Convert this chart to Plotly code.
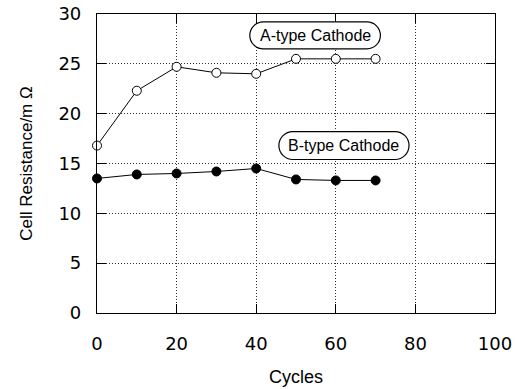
import plotly.graph_objects as go

# Cycle numbers and measured cell resistance (mΩ)
cycles = [0, 10, 20, 30, 40, 50, 60, 70]
a_type = [16.8, 22.3, 24.7, 24.1, 24.0, 25.5, 25.5, 25.5]
b_type = [13.5, 13.9, 14.0, 14.2, 14.5, 13.4, 13.3, 13.3]

x_ticks = [0, 20, 40, 60, 80, 100]
y_ticks = [0, 5, 10, 15, 20, 25, 30]

label_a = "A-type Cathode"
label_b = "B-type Cathode"

FONT = "Liberation Sans, Arial, sans-serif"
TICK_FONT = "DejaVu Sans, sans-serif"

fig = go.Figure()

fig.add_trace(go.Scatter(
    x=cycles, y=a_type, mode="lines+markers",
    line=dict(color="black", width=1),
    marker=dict(symbol="circle", size=9, color="white",
                line=dict(color="black", width=1)),
    showlegend=False, cliponaxis=False,
))
fig.add_trace(go.Scatter(
    x=cycles, y=b_type, mode="lines+markers",
    line=dict(color="black", width=1),
    marker=dict(symbol="circle", size=9, color="black",
                line=dict(color="black", width=1)),
    showlegend=False, cliponaxis=False,
))


def pill(x0, x1, y0, y1, rx, ry):
    """Rounded (pill-shaped) box path in data coordinates."""
    k = 0.5523
    ym = (y0 + y1) / 2
    return (
        f"M {x0 + rx},{y1} L {x1 - rx},{y1} "
        f"C {x1 - rx + k * rx},{y1} {x1},{ym + k * ry} {x1},{ym} "
        f"C {x1},{ym - k * ry} {x1 - rx + k * rx},{y0} {x1 - rx},{y0} "
        f"L {x0 + rx},{y0} "
        f"C {x0 + rx - k * rx},{y0} {x0},{ym - k * ry} {x0},{ym} "
        f"C {x0},{ym + k * ry} {x0 + rx - k * rx},{y1} {x0 + rx},{y1} Z"
    )


boxes = [
    (label_a, 38.4, 71.2, 26.5, 29.2),
    (label_b, 45.7, 78.4, 15.4, 18.2),
]
for text, x0, x1, y0, y1 in boxes:
    ry = (y1 - y0) / 2
    rx = ry * 9.97 / 3.98
    fig.add_shape(type="path", path=pill(x0, x1, y0, y1, rx, ry),
                  xref="x", yref="y", line=dict(color="black", width=1.2),
                  fillcolor="white", layer="above")
    fig.add_annotation(x=(x0 + x1) / 2, y=(y0 + y1) / 2, text=text,
                       showarrow=False, xref="x", yref="y",
                       font=dict(family=FONT, size=16, color="black"))

axis_common = dict(
    showline=True, linecolor="black", linewidth=1.2, mirror="allticks",
    ticks="inside", ticklen=9, tickcolor="black", tickwidth=1.2,
    showgrid=True, gridcolor="#333333", gridwidth=1, griddash="1px,2px",
    zeroline=False, automargin=False,
    tickfont=dict(family=TICK_FONT, size=18, color="black"),
)

fig.update_xaxes(
    range=[0, 100], tickvals=x_ticks, ticktext=[str(v) for v in x_ticks],
    ticklabelstandoff=14,
    title=dict(text="Cycles", font=dict(family=FONT, size=18, color="black"),
               standoff=17),
    **axis_common,
)
fig.update_yaxes(
    range=[0, 30], tickvals=y_ticks, ticktext=[str(v) for v in y_ticks],
    ticklabelstandoff=11,
    title=dict(text="Cell Resistance/m Ω",
               font=dict(family=FONT, size=17, color="black"), standoff=21),
    **axis_common,
)

fig.update_layout(
    width=528, height=389,
    margin=dict(l=97, r=33, t=14, b=76),
    plot_bgcolor="white", paper_bgcolor="white",
)

fig.write_html("out.html")
